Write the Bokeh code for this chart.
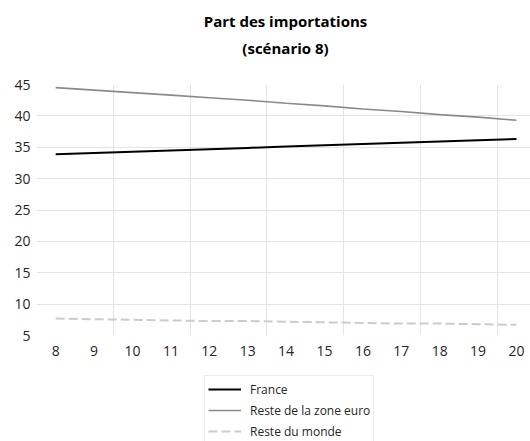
from bokeh.plotting import figure
from bokeh.layouts import column
from bokeh.models import FixedTicker, Legend, LegendItem, Label, Range1d
from bokeh.embed import file_html
from bokeh.resources import INLINE

years = [8, 9, 10, 11, 12, 13, 14, 15, 16, 17, 18, 19, 20]
tick_labels = [str(y) for y in years]
france = [33.9, 34.1, 34.3, 34.5, 34.7, 34.9, 35.1, 35.3, 35.5, 35.7, 35.9, 36.1, 36.3]
zone_euro = [44.5, 44.1, 43.7, 43.3, 42.9, 42.5, 42.0, 41.6, 41.1, 40.7, 40.2, 39.8, 39.3]
reste_monde = [7.7, 7.6, 7.5, 7.4, 7.3, 7.3, 7.2, 7.1, 7.0, 6.9, 6.9, 6.8, 6.7]
y_ticks = [5, 10, 15, 20, 25, 30, 35, 40, 45]
series_names = ["France", "Reste de la zone euro", "Reste du monde"]
title_lines = ["Part des importations", "(scénario 8)"]

FONT = "Open Sans"
LEFT = 36  # frames of all stacked figures are aligned to this left edge
series_values = [france, zone_euro, reste_monde]
styles = [dict(line_color="#000000", line_width=2),
          dict(line_color="#8a8a8a", line_width=1.6),
          dict(line_color="#cccccc", line_width=2, line_dash="9 4")]


def bare(fig):
    fig.outline_line_color = None
    fig.border_fill_color = "white"
    fig.background_fill_color = "white"
    return fig


# ---- title block ----
tf = bare(figure(width=530, height=72, output_backend="svg", toolbar_location=None,
                 x_range=Range1d(LEFT, 530), y_range=Range1d(0, 72), min_border=0,
                 min_border_left=LEFT,
                 x_axis_location=None, y_axis_location=None, title=None))
tf.grid.visible = False
for txt, yv in zip(title_lines, [52, 25]):
    tf.add_layout(Label(x=285, y=yv, text=txt, text_align="center", text_baseline="middle",
                        text_font=FONT, text_font_size="15px", text_font_style="bold",
                        text_color="#000000"))

# ---- main chart ----
p = bare(figure(frame_width=494, frame_height=251, output_backend="svg", toolbar_location=None,
                x_range=Range1d(7.5, 20.365), y_range=Range1d(5, 45),
                min_border_left=LEFT, min_border_right=0, min_border_top=12,
                min_border_bottom=0, title=None))
p.xaxis.ticker = FixedTicker(ticks=years)
p.xaxis.major_label_overrides = {y: l for y, l in zip(years, tick_labels)}
p.yaxis.ticker = FixedTicker(ticks=y_ticks)
for ax in (p.xaxis[0], p.yaxis[0]):
    ax.axis_line_color = None
    ax.major_tick_line_color = None
    ax.minor_tick_line_color = None
    ax.major_tick_in = 0
    ax.major_tick_out = 0
    ax.minor_tick_in = 0
    ax.minor_tick_out = 0
    ax.major_label_text_font = FONT
    ax.major_label_text_font_size = "14px"
    ax.major_label_text_color = "#262626"
p.yaxis.major_label_standoff = 6
p.xaxis.major_label_standoff = 10

p.xgrid.ticker = FixedTicker(ticks=[y + 0.5 for y in years[1:-1:2]])
p.ygrid.ticker = FixedTicker(ticks=[t for t in y_ticks if 5 < t < 45])
p.xgrid.grid_line_color = "#e4e4e4"
p.ygrid.grid_line_color = "#e4e4e4"

for vals, st in zip(series_values, styles):
    p.line(years, vals, **st)

# ---- legend block (its ranges keep the copies of the series out of view) ----
lg = bare(figure(width=530, height=83, output_backend="svg", toolbar_location=None,
                 x_range=Range1d(0, 1), y_range=Range1d(0, 1), min_border=0,
                 min_border_left=LEFT,
                 x_axis_location=None, y_axis_location=None, title=None))
lg.grid.visible = False
lg_renderers = [lg.line(years, vals, **st) for vals, st in zip(series_values, styles)]
legend = Legend(items=[LegendItem(label=n, renderers=[r]) for n, r in zip(series_names, lg_renderers)],
                location=(204 - LEFT, -4), orientation="vertical",
                padding=3, spacing=1, label_height=20, glyph_height=20, glyph_width=33,
                label_standoff=9, label_text_font=FONT,
                label_text_font_size="12px", label_text_color="#262626",
                border_line_color="#d9d9d9", border_line_width=1,
                background_fill_color="white", background_fill_alpha=1, margin=0)
lg.add_layout(legend, "center")

layout = column(tf, p, lg, spacing=0)
open("out.html", "w").write(file_html(layout, INLINE))
